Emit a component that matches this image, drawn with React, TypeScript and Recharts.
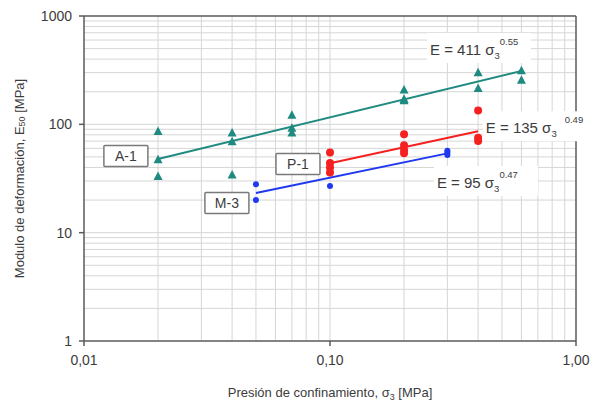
import React from 'react';
import {
  ScatterChart,
  Scatter,
  XAxis,
  YAxis,
  ReferenceLine,
  ReferenceDot,
} from 'recharts';

// measured points: confining pressure (MPa) vs E50 (MPa)
const a1X = [0.02, 0.02, 0.02, 0.04, 0.04, 0.04, 0.07, 0.07, 0.07, 0.2, 0.2, 0.2, 0.4, 0.4, 0.6, 0.6];
const a1Y = [86, 47, 33, 83, 69, 34, 121, 92, 83, 208, 170, 165, 300, 214, 312, 255];

const p1X = [0.1, 0.1, 0.1, 0.1, 0.2, 0.2, 0.2, 0.2, 0.4, 0.4, 0.4];
const p1Y = [55, 44, 40, 36, 81, 64, 58, 54, 134, 75, 70];

const m3X = [0.05, 0.05, 0.1, 0.3, 0.3, 0.3];
const m3Y = [28, 20, 27, 57, 55, 52];

// power-law fits E = a * s3^b, drawn over the tested range
const fitNames = ['A-1', 'P-1', 'M-3'];
const fitA = [411, 135, 95];
const fitB = [0.55, 0.49, 0.47];
const fitRange = [
  [0.02, 0.6],
  [0.1, 0.4],
  [0.05, 0.3],
];

// where the tags and equations are anchored (data units)
const tagAt = [
  [0.0148, 51],
  [0.0741, 43],
  [0.0381, 18.8],
];
const eqAt = [
  [0.255, 486],
  [0.43, 92],
  [0.272, 28.8],
];

const xTicks = [0.01, 0.1, 1];
const yTicks = [1, 10, 100, 1000];
const xGrid = [0.02, 0.03, 0.04, 0.05, 0.06, 0.07, 0.08, 0.09, 0.1, 0.2, 0.3, 0.4, 0.5, 0.6, 0.7, 0.8, 0.9];
const yGrid = [2, 3, 4, 5, 6, 7, 8, 9, 10, 20, 30, 40, 50, 60, 70, 80, 90, 100, 200, 300, 400, 500, 600, 700, 800, 900];

const TEAL = '#1f8a80';
const RED = '#f52020';
const BLUE = '#2038f0';
const TEXT = '#3c3c3c';
const FONT = '"Liberation Sans", Arial, sans-serif';

const zip = (xs: number[], ys: number[]) => xs.map((x, i) => ({ x, y: ys[i] }));

const fitLine = (i: number) =>
  fitRange[i].map((x) => ({ x, y: fitA[i] * Math.pow(x, fitB[i]) }));

const Triangle = (props: any) => {
  const { cx, cy } = props;
  if (cx == null || cy == null) return <g />;
  return <polygon points={`${cx},${cy - 5} ${cx + 4.5},${cy + 3.5} ${cx - 4.5},${cy + 3.5}`} fill={TEAL} />;
};

const Dot = (r: number, color: string) => (props: any) => {
  const { cx, cy } = props;
  if (cx == null || cy == null) return <g />;
  return <circle cx={cx} cy={cy} r={r} fill={color} />;
};

const NoDot = () => <g />;

// boxed series tag, e.g. "A-1"
const TagLabel = (text: string) => (props: any) => {
  const vb = props.viewBox || {};
  const cx = vb.x + (vb.width || 0) / 2;
  const cy = vb.y + (vb.height || 0) / 2;
  const w = 44;
  const h = 21;
  return (
    <g>
      <rect x={cx - w / 2} y={cy - h / 2} width={w} height={h} fill="#fff" stroke="#7a7a7a" strokeWidth={1.5} rx={1} />
      <text x={cx} y={cy + 5} textAnchor="middle" fontSize={14} fontFamily={FONT} fill={TEXT}>
        {text}
      </text>
    </g>
  );
};

// fit equation with subscript and exponent, on a white patch
const EquationLabel = (a: number, b: number, padRight: number) => (props: any) => {
  const vb = props.viewBox || {};
  const x = vb.x + (vb.width || 0) / 2;
  const y = vb.y + (vb.height || 0) / 2;
  return (
    <g>
      <rect x={x - 3} y={y - 17} width={104 + padRight} height={30} fill="#fff" />
      <text x={x} y={y + 5} fontSize={15} fontFamily={FONT} fill={TEXT}>
        {`E = ${a} σ`}
        <tspan fontSize={9.5} dy={4}>3</tspan>
        <tspan fontSize={9.5} dy={-14} dx={padRight}>{b.toFixed(2)}</tspan>
      </text>
    </g>
  );
};

const YTitle = (props: any) => {
  const vb = props.viewBox || {};
  const x = 19;
  const y = vb.y + vb.height / 2;
  return (
    <text x={x} y={y} transform={`rotate(-90, ${x}, ${y})`} textAnchor="middle" dominantBaseline="central" fontSize={13} fontFamily={FONT} fill={TEXT}>
      Modulo de deformación, E
      <tspan fontSize={9} dy={3}>50</tspan>
      <tspan dy={-3}> [MPa]</tspan>
    </text>
  );
};

const XTitle = (props: any) => {
  const vb = props.viewBox || {};
  const x = vb.x + vb.width / 2;
  return (
    <text x={x} y={397} textAnchor="middle" fontSize={13} fontFamily={FONT} fill={TEXT}>
      Presión de confinamiento, σ
      <tspan fontSize={9} dy={3}>3</tspan>
      <tspan dy={-3}> [MPa]</tspan>
    </text>
  );
};

const fmtX = (v: number) => v.toFixed(2).replace('.', ',');

export default function App() {
  const tick = { fontSize: 14, fill: TEXT, fontFamily: FONT };
  return (
    <div style={{ position: 'absolute', left: 0, top: 0, background: '#fff' }}>
      <ScatterChart width={592} height={406} margin={{ top: 16, right: 16, bottom: 35, left: 24 }}>
        {xGrid.map((v) => (
          <ReferenceLine key={`gx-${v}`} x={v} stroke="#d6d6d6" strokeWidth={1} />
        ))}
        {yGrid.map((v) => (
          <ReferenceLine key={`gy-${v}`} y={v} stroke="#d6d6d6" strokeWidth={1} />
        ))}
        <ReferenceLine x={1} stroke="#5a5a5a" strokeWidth={1.5} />
        <ReferenceLine y={1000} stroke="#5a5a5a" strokeWidth={1.5} />
        <XAxis
          type="number"
          dataKey="x"
          scale="log"
          domain={[0.01, 1]}
          ticks={xTicks}
          tickFormatter={fmtX}
          allowDataOverflow
          height={30}
          tickSize={5}
          tickMargin={9}
          tick={tick}
          stroke="#5a5a5a"
          strokeWidth={1.5}
          label={<XTitle />}
        />
        <YAxis
          type="number"
          dataKey="y"
          scale="log"
          domain={[1, 1000]}
          ticks={yTicks}
          allowDataOverflow
          width={60}
          tickSize={5}
          tickMargin={7}
          tick={tick}
          stroke="#5a5a5a"
          strokeWidth={1.5}
          label={<YTitle />}
        />
        <Scatter name="A-1 fit" data={fitLine(0)} line={{ stroke: TEAL, strokeWidth: 2 }} shape={NoDot} isAnimationActive={false} />
        <Scatter name="P-1 fit" data={fitLine(1)} line={{ stroke: RED, strokeWidth: 2 }} shape={NoDot} isAnimationActive={false} />
        <Scatter name="M-3 fit" data={fitLine(2)} line={{ stroke: BLUE, strokeWidth: 2 }} shape={NoDot} isAnimationActive={false} />
        <Scatter name="A-1" data={zip(a1X, a1Y)} shape={Triangle} isAnimationActive={false} />
        <Scatter name="P-1" data={zip(p1X, p1Y)} shape={Dot(4, RED)} isAnimationActive={false} />
        <Scatter name="M-3" data={zip(m3X, m3Y)} shape={Dot(3, BLUE)} isAnimationActive={false} />

        {fitNames.map((name, i) => (
          <ReferenceDot key={`tag-${name}`} x={tagAt[i][0]} y={tagAt[i][1]} r={0} fill="none" stroke="none" label={TagLabel(name)} />
        ))}
        {fitNames.map((name, i) => (
          <ReferenceDot
            key={`eq-${name}`}
            x={eqAt[i][0]}
            y={eqAt[i][1]}
            r={0}
            fill="none"
            stroke="none"
            label={EquationLabel(fitA[i], fitB[i], i === 1 ? 8 : 0)}
          />
        ))}
      </ScatterChart>
    </div>
  );
}
